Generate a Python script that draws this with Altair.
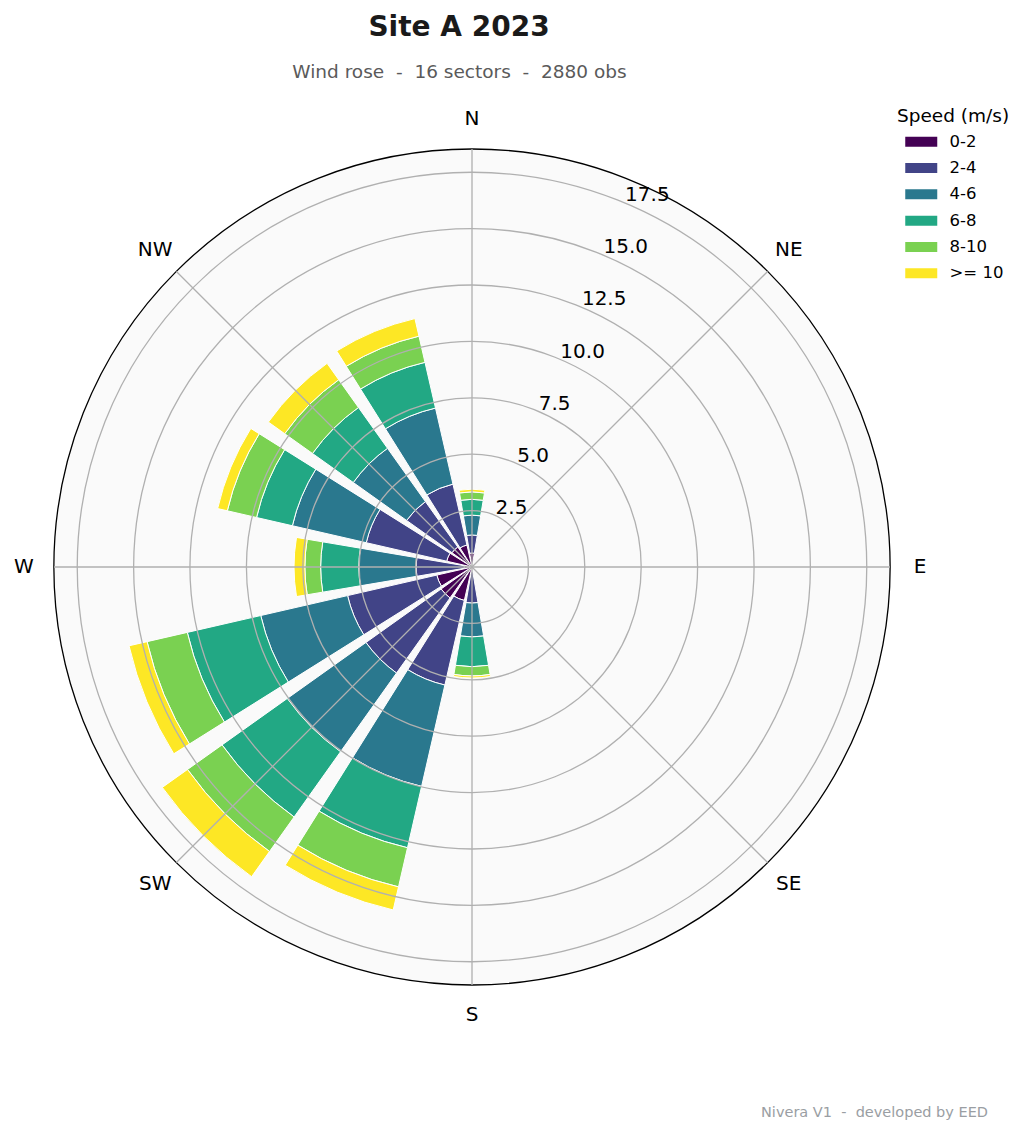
import math
import altair as alt
import pandas as pd

# ---------------- data (percent of observations) ----------------
directions = ["N", "NNE", "NE", "ENE", "E", "ESE", "SE", "SSE",
              "S", "SSW", "SW", "WSW", "W", "WNW", "NW", "NNW"]
speed_bins = ["0-2", "2-4", "4-6", "6-8", "8-10", ">= 10"]
bin_colors = ["#440154", "#414487", "#2a788e", "#22a884", "#7ad151", "#fde725"]

pct_0_2 = [0.62, 0, 0, 0, 0, 0, 0, 0, 0.20, 1.52, 1.68, 1.60, 0.35, 1.15, 1.09, 1.00]
pct_2_4 = [0.80, 0, 0, 0, 0, 0, 0, 0, 1.40, 3.85, 4.09, 4.06, 2.13, 3.66, 2.47, 2.77]
pct_4_6 = [0.88, 0, 0, 0, 0, 0, 0, 0, 1.50, 4.61, 4.28, 3.95, 2.54, 3.36, 2.90, 3.46]
pct_6_8 = [0.70, 0, 0, 0, 0, 0, 0, 0, 1.32, 2.79, 3.55, 3.34, 1.69, 1.63, 2.22, 2.08]
pct_8_10 = [0.33, 0, 0, 0, 0, 0, 0, 0, 0.41, 1.78, 1.88, 1.83, 0.70, 1.33, 1.51, 1.19]
pct_10p = [0.12, 0, 0, 0, 0, 0, 0, 0, 0.09, 1.05, 1.37, 0.82, 0.48, 0.44, 0.89, 0.80]

ring_values = [2.5, 5.0, 7.5, 10.0, 12.5, 15.0, 17.5]
ring_labels = ["2.5", "5.0", "7.5", "10.0", "12.5", "15.0", "17.5"]
compass_labels = ["N", "NE", "E", "SE", "S", "SW", "W", "NW"]
compass_angles = [0, 45, 90, 135, 180, 225, 270, 315]
r_max = 18.53

title_text = "Site A 2023"
subtitle_text = "Wind rose  -  16 sectors  -  2880 obs"
footer_text = "Nivera V1  -  developed by EED"


def keep_spaces(s):
    # SVG collapses runs of spaces; keep them visible with no-break spaces
    return s.replace("  ", " \u00a0")


# ---------------- layout / style ----------------
CX, CY, R_PX = 472, 567, 418
FONT = "DejaVu Sans"
sector = 360 / len(directions)
bar_span = 0.85 * sector
label_r = r_max * 448 / R_PX
rlabel_angle = 22.5

theta_scale = alt.Scale(domain=[0, 360], range=[0, 2 * math.pi])
r_scale = alt.Scale(type="linear", domain=[0, r_max], range=[0, R_PX], zero=True)

# stacked bars
series = [pct_0_2, pct_2_4, pct_4_6, pct_6_8, pct_8_10, pct_10p]
rows = []
for i, d in enumerate(directions):
    cum = 0.0
    for b, arr in zip(speed_bins, series):
        v = arr[i]
        if v > 0:
            rows.append({"dir": d, "bin": b, "r0": cum, "r1": cum + v,
                         "t0": i * sector - bar_span / 2,
                         "t1": i * sector + bar_span / 2})
        cum += v
bars_df = pd.DataFrame(rows)

bg_df = pd.DataFrame({"t0": [0], "t1": [360], "r": [r_max], "r0": [0]})
rings_df = pd.DataFrame({"t0": 0, "t1": 360, "r": ring_values, "r0": 0})
spokes_df = pd.DataFrame({"t": compass_angles, "r": r_max, "r0": 0})
compass_df = pd.DataFrame({"label": compass_labels, "t": compass_angles, "r": label_r})
rlab_df = pd.DataFrame({"label": ring_labels, "r": ring_values, "t": rlabel_angle})

pos = dict(x=alt.value(CX), y=alt.value(CY))

background = alt.Chart(bg_df).mark_arc(fill="#fafafa", stroke="black", strokeWidth=1.3).encode(
    theta=alt.Theta("t0:Q", scale=theta_scale, stack=None), theta2="t1:Q",
    radius=alt.Radius("r:Q", scale=r_scale, stack=None), radius2="r0:Q", **pos)

bars = alt.Chart(bars_df).mark_arc(stroke="white", strokeWidth=1).encode(
    theta=alt.Theta("t0:Q", scale=theta_scale, stack=None), theta2="t1:Q",
    radius=alt.Radius("r1:Q", scale=r_scale, stack=None), radius2="r0:Q",
    color=alt.Color("bin:N", scale=alt.Scale(domain=speed_bins, range=bin_colors),
                    legend=alt.Legend(title="Speed (m/s)", orient="none", legendX=897, legendY=107,
                                      symbolType="M0,-1H6.4V1H0Z", symbolSize=100,
                                      symbolStrokeWidth=0, symbolOpacity=1,
                                      labelFontSize=16.5, titleFontSize=18.5,
                                      titleFontWeight="normal", titleColor="black",
                                      labelColor="black", labelFont=FONT, titleFont=FONT,
                                      rowPadding=9.3, titlePadding=8, labelOffset=36,
                                      padding=0)),
    **pos)

rings = alt.Chart(rings_df).mark_arc(fillOpacity=0, stroke="#b0b0b0", strokeWidth=1.3).encode(
    theta=alt.Theta("t0:Q", scale=theta_scale, stack=None), theta2="t1:Q",
    radius=alt.Radius("r:Q", scale=r_scale, stack=None), radius2="r0:Q", **pos)

spokes = alt.Chart(spokes_df).mark_arc(fillOpacity=0, stroke="#b0b0b0", strokeWidth=1.3).encode(
    theta=alt.Theta("t:Q", scale=theta_scale, stack=None), theta2="t:Q",
    radius=alt.Radius("r:Q", scale=r_scale, stack=None), radius2="r0:Q", **pos)

compass = alt.Chart(compass_df).mark_text(font=FONT, fontSize=20, color="black",
                                          align="center", baseline="middle").encode(
    theta=alt.Theta("t:Q", scale=theta_scale, stack=None),
    radius=alt.Radius("r:Q", scale=r_scale, stack=None),
    text="label:N", **pos)

rlabels = alt.Chart(rlab_df).mark_text(font=FONT, fontSize=20, color="black",
                                       align="left", baseline="alphabetic", dx=2, dy=-1).encode(
    theta=alt.Theta("t:Q", scale=theta_scale, stack=None),
    radius=alt.Radius("r:Q", scale=r_scale, stack=None),
    text="label:N", **pos)

title = alt.Chart(pd.DataFrame({"t": [title_text]})).mark_text(
    font=FONT, fontSize=28, fontWeight="bold", color="#1a1a1a", align="center", baseline="middle"
).encode(x=alt.value(459), y=alt.value(28), text="t:N")

subtitle = alt.Chart(pd.DataFrame({"t": [keep_spaces(subtitle_text)]})).mark_text(
    font=FONT, fontSize=18.5, color="#5a5a5a", align="center", baseline="middle"
).encode(x=alt.value(459.5), y=alt.value(72), text="t:N")

footer = alt.Chart(pd.DataFrame({"t": [keep_spaces(footer_text)]})).mark_text(
    font=FONT, fontSize=14.5, color="#9a9ea3", align="right", baseline="middle"
).encode(x=alt.value(988), y=alt.value(1113), text="t:N")

chart = alt.layer(background, bars, rings, spokes, compass, rlabels, title, subtitle, footer).properties(
    width=1032, height=1135, padding=0, autosize=alt.AutoSizeParams(type="none"),
    background="white"
).configure_view(strokeWidth=0)

chart.save("out.html", embed_options={"renderer": "svg", "actions": False})
